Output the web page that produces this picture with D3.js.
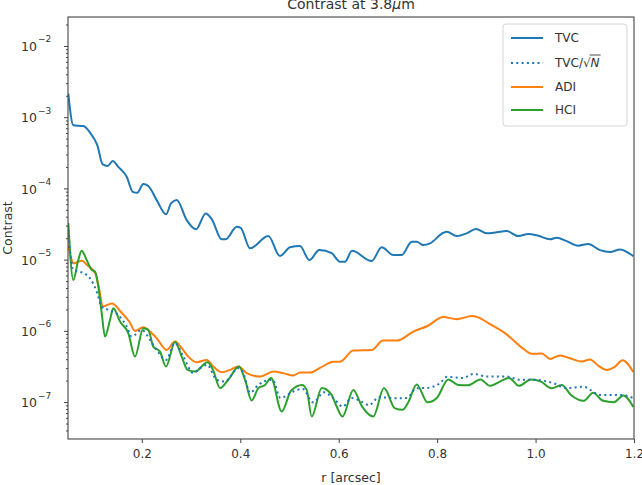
<!DOCTYPE html>
<html>
<head>
<meta charset="utf-8">
<script src="https://cdn.jsdelivr.net/npm/d3@7"></script>
<style>
  html, body { margin: 0; padding: 0; background: #fff; }
  svg { display: block; font-family: "DejaVu Sans", sans-serif; }
</style>
</head>
<body>
<svg id="chart" width="642" height="485"></svg>
<script>
// ---------------- data ----------------
const title = "Contrast at 3.8";
const xLabel = "r [arcsec]";
const yLabel = "Contrast";
const xTicks = [0.2, 0.4, 0.6, 0.8, 1.0, 1.2];
const yTickExponents = [-7, -6, -5, -4, -3, -2];
const seriesNames = ["TVC", "TVC/√N", "ADI", "HCI"];

const tvcR = [0.0506,0.0608,0.0811,0.0982,0.1095,0.1205,0.1307,0.1408,0.1522,0.1693,0.1815,0.1908,0.203,0.2132,0.2302,0.2491,0.2593,0.2709,0.2912,0.3101,0.3298,0.342,0.3623,0.3704,0.3928,0.4009,0.4198,0.457,0.4807,0.5011,0.5214,0.5403,0.5606,0.5858,0.6027,0.6128,0.627,0.667,0.6874,0.7109,0.728,0.7483,0.7585,0.7719,0.7855,0.8125,0.8194,0.8398,0.86,0.879,0.9007,0.921,0.9413,0.9649,0.9852,1.0055,1.0293,1.0429,1.0632,1.0868,1.1071,1.1309,1.1512,1.1715,1.1986];
const tvc = [2.15e-3,7.7e-4,7.5e-4,5.6e-4,4.05e-4,2.17e-4,2.07e-4,2.42e-4,2.01e-4,1.46e-4,8.96e-5,8.67e-5,1.15e-4,1.08e-4,6.85e-5,4.32e-5,6.16e-5,6.85e-5,3.59e-5,2.66e-5,4.46e-5,3.71e-5,1.93e-5,1.93e-5,2.89e-5,2.80e-5,1.44e-5,2.14e-5,1.12e-5,1.49e-5,1.55e-5,9.87e-6,1.36e-5,1.23e-5,9.35e-6,9.35e-6,1.33e-5,9.55e-6,1.49e-5,1.16e-5,1.16e-5,1.78e-5,1.78e-5,1.60e-5,1.69e-5,2.38e-5,2.46e-5,2.14e-5,2.34e-5,2.69e-5,2.34e-5,2.42e-5,2.52e-5,2.14e-5,2.29e-5,2.16e-5,1.93e-5,2.03e-5,1.82e-5,1.57e-5,1.66e-5,1.36e-5,1.28e-5,1.39e-5,1.12e-5];

const tvcNR = [0.0506,0.0608,0.0744,0.0947,0.1083,0.1185,0.1319,0.1522,0.1693,0.1794,0.1997,0.2166,0.2302,0.2491,0.2674,0.2843,0.3046,0.3182,0.3324,0.3521,0.369,0.396,0.4062,0.4198,0.4367,0.4655,0.4818,0.5078,0.5265,0.5484,0.5702,0.5884,0.6087,0.626,0.65,0.6616,0.6819,0.7178,0.7382,0.7581,0.7794,0.8058,0.8201,0.8532,0.8735,0.9007,0.9413,0.9684,0.9954,1.0361,1.0632,1.097,1.1309,1.1715,1.1986];
const tvcN = [2.60e-5,7.15e-6,6.77e-6,5.47e-6,3.55e-6,2.19e-6,1.97e-6,1.67e-6,1.15e-6,8.30e-7,1.03e-6,7.46e-7,5.40e-7,3.91e-7,6.70e-7,4.35e-7,2.55e-7,2.99e-7,3.33e-7,2.06e-7,1.95e-7,2.99e-7,2.55e-7,1.35e-7,1.74e-7,2.06e-7,1.14e-7,1.41e-7,1.53e-7,9.91e-8,1.37e-7,1.14e-7,8.66e-8,1.14e-7,9.86e-8,9.04e-8,1.17e-7,1.13e-7,1.14e-7,1.56e-7,1.58e-7,1.84e-7,2.26e-7,2.18e-7,2.49e-7,2.28e-7,2.28e-7,2.06e-7,2.06e-7,1.84e-7,1.57e-7,1.64e-7,1.26e-7,1.26e-7,1.14e-7];

const adiR = [0.0506,0.0616,0.0784,0.0886,0.1055,0.1124,0.1211,0.1394,0.1577,0.175,0.1861,0.203,0.2166,0.2302,0.2505,0.2674,0.281,0.2944,0.3115,0.3318,0.3452,0.3623,0.3791,0.396,0.4131,0.4401,0.4671,0.4874,0.5078,0.5214,0.5417,0.562,0.589,0.6027,0.6297,0.6671,0.69,0.7178,0.7516,0.7814,0.8125,0.8398,0.8708,0.8871,0.9034,0.9413,0.9751,0.9921,1.0125,1.0293,1.0496,1.07,1.0937,1.1106,1.1274,1.1451,1.1614,1.1766,1.1986];
const adi = [1.60e-5,8.88e-6,9.66e-6,8.41e-6,6.43e-6,4.17e-6,2.20e-6,2.43e-6,1.84e-6,1.33e-6,9.98e-7,1.12e-6,9.75e-7,7.88e-7,5.40e-7,7.06e-7,5.71e-7,4.35e-7,3.63e-7,3.91e-7,3.15e-7,2.63e-7,2.83e-7,3.15e-7,2.55e-7,2.28e-7,2.68e-7,2.55e-7,2.36e-7,2.60e-7,2.60e-7,3.02e-7,3.67e-7,3.69e-7,5.29e-7,5.40e-7,7.29e-7,7.29e-7,9.75e-7,1.18e-6,1.56e-6,1.46e-6,1.61e-6,1.51e-6,1.29e-6,8.91e-7,5.60e-7,4.75e-7,4.82e-7,4.04e-7,4.52e-7,4.13e-7,3.70e-7,3.97e-7,3.25e-7,2.83e-7,3.15e-7,3.85e-7,2.65e-7];

const hciR = [0.0506,0.0608,0.0709,0.0778,0.0866,0.0982,0.1049,0.1116,0.1185,0.1252,0.1353,0.142,0.1557,0.1725,0.1861,0.203,0.2132,0.2233,0.2369,0.2491,0.2674,0.281,0.2928,0.308,0.3334,0.3446,0.3588,0.3757,0.3974,0.4096,0.4232,0.4367,0.4503,0.4625,0.4842,0.5031,0.5255,0.535,0.5452,0.5655,0.5844,0.5959,0.6077,0.6297,0.6473,0.6703,0.692,0.7144,0.7296,0.7414,0.7585,0.7804,0.7997,0.8227,0.843,0.8627,0.8881,0.9074,0.9277,0.946,0.9663,0.9907,1.011,1.0324,1.0531,1.072,1.0974,1.1173,1.136,1.1594,1.1783,1.1986];
const hci = [3.26e-5,5.18e-6,9.88e-6,1.33e-5,1.04e-5,7.15e-6,6.81e-6,4.17e-6,1.77e-6,8.30e-7,1.42e-6,2.08e-6,1.35e-6,9.27e-7,4.35e-7,1.09e-6,1.03e-6,6.01e-7,5.11e-7,3.15e-7,7.00e-7,4.35e-7,2.83e-7,2.68e-7,3.61e-7,2.83e-7,1.57e-7,2.06e-7,3.15e-7,2.06e-7,1.05e-7,1.57e-7,1.74e-7,2.17e-7,7.37e-8,1.44e-7,1.74e-7,1.48e-7,6.27e-8,1.58e-7,1.30e-7,8.66e-8,6.27e-8,1.48e-7,8.71e-8,6.27e-8,1.57e-7,8.16e-8,7.78e-8,9.97e-8,1.77e-7,9.91e-8,1.15e-7,2.08e-7,1.74e-7,1.72e-7,2.08e-7,1.69e-7,1.94e-7,2.17e-7,1.69e-7,2.08e-7,1.94e-7,1.56e-7,1.74e-7,1.26e-7,1.04e-7,1.35e-7,1.05e-7,9.97e-8,1.24e-7,8.55e-8];

// ---------------- layout ----------------
const W = 642, H = 485;
const m = { left: 68, right: 8, top: 17, bottom: 46 };
const iw = W - m.left - m.right, ih = H - m.top - m.bottom;
const textColor = "#333";
const colors = { TVC: "#1f77b4", ADI: "#ff7f0e", HCI: "#2ca02c" };

const svg = d3.select("#chart");
const g = svg.append("g").attr("transform", `translate(${m.left},${m.top})`);

const x = d3.scaleLinear().domain([0.05, 1.2]).range([0, iw]);
const y = d3.scaleLog().domain([3.03e-8, 2.55e-2]).range([ih, 0]);

// clip
svg.append("defs").append("clipPath").attr("id", "clip")
  .append("rect").attr("width", iw).attr("height", ih);

// lines
const line = d3.line()
  .x(d => x(d[0])).y(d => y(d[1]))
  .curve(d3.curveMonotoneX);
const zip = (a, b) => a.map((v, i) => [v, b[i]]);

const plot = g.append("g").attr("clip-path", "url(#clip)");
plot.append("path").datum(zip(tvcR, tvc))
  .attr("fill", "none").attr("stroke", colors.TVC).attr("stroke-width", 2).attr("d", line);
plot.append("path").datum(zip(adiR, adi))
  .attr("fill", "none").attr("stroke", colors.ADI).attr("stroke-width", 2).attr("d", line);
plot.append("path").datum(zip(hciR, hci))
  .attr("fill", "none").attr("stroke", colors.HCI).attr("stroke-width", 2).attr("d", line);
plot.append("path").datum(zip(tvcNR, tvcN))
  .attr("fill", "none").attr("stroke", colors.TVC).attr("stroke-width", 2)
  .attr("stroke-dasharray", "2,3.3").attr("d", line);

// x axis
const xAxis = g.append("g").attr("transform", `translate(0,${ih})`)
  .call(d3.axisBottom(x).tickValues(xTicks).tickFormat(d3.format(".1f")).tickSize(4).tickPadding(6));
xAxis.select(".domain").remove();
xAxis.selectAll("line").attr("stroke", "#444");
xAxis.selectAll("text").attr("fill", textColor).attr("font-size", 12)
  .attr("font-family", "DejaVu Sans, sans-serif");

// y axis: minor ticks
const minor = [];
for (let e = -8; e <= -2; e++) for (let k = 2; k <= 9; k++) {
  const v = k * Math.pow(10, e);
  if (v >= y.domain()[0] && v <= y.domain()[1]) minor.push(v);
}
const yMinor = g.append("g")
  .call(d3.axisLeft(y).tickValues(minor).tickFormat("").tickSize(2));
yMinor.select(".domain").remove();
yMinor.selectAll("line").attr("stroke", "#444");

const yMajorVals = yTickExponents.map(e => Math.pow(10, e));
const yAxis = g.append("g")
  .call(d3.axisLeft(y).tickValues(yMajorVals).tickFormat("").tickSize(4));
yAxis.select(".domain").remove();
yAxis.selectAll("line").attr("stroke", "#444");
yAxis.selectAll(".tick").each(function(d, i) {
  d3.select(this).append("text")
    .attr("x", -31).attr("y", 0).attr("dy", "0.38em")
    .attr("text-anchor", "end").attr("fill", textColor)
    .attr("font-size", 12.5).attr("font-family", "DejaVu Sans, sans-serif")
    .text("10");
  d3.select(this).append("text")
    .attr("x", -30).attr("y", -4)
    .attr("text-anchor", "start").attr("fill", textColor)
    .attr("font-size", 9).attr("font-family", "DejaVu Sans, sans-serif")
    .text("−" + Math.abs(yTickExponents[i]));
});

// frame
g.append("rect").attr("width", iw).attr("height", ih)
  .attr("fill", "none").attr("stroke", "#444").attr("stroke-width", 1.1);

// axis labels
svg.append("text").attr("x", m.left + iw / 2).attr("y", 482)
  .attr("text-anchor", "middle").attr("fill", textColor).attr("font-size", 12.5)
  .text(xLabel);
svg.append("text").attr("transform", `translate(12,${m.top + ih / 2}) rotate(-90)`)
  .attr("text-anchor", "middle").attr("fill", textColor).attr("font-size", 12.5)
  .text(yLabel);

// title
const tt = svg.append("text").attr("x", m.left + iw / 2).attr("y", 9)
  .attr("text-anchor", "middle").attr("fill", textColor).attr("font-size", 14);
tt.append("tspan").text(title);
tt.append("tspan").attr("font-style", "italic").text("μ");
tt.append("tspan").text("m");

// legend
const lg = svg.append("g").attr("transform", "translate(503,24)");
lg.append("rect").attr("width", 124).attr("height", 102).attr("rx", 3)
  .attr("fill", "#fff").attr("fill-opacity", 0.8).attr("stroke", "#d6d6d6");
const rows = [
  { name: seriesNames[0], color: colors.TVC, dash: null, y: 14 },
  { name: seriesNames[1], color: colors.TVC, dash: "2,3.3", y: 39 },
  { name: seriesNames[2], color: colors.ADI, dash: null, y: 63 },
  { name: seriesNames[3], color: colors.HCI, dash: null, y: 86 }
];
rows.forEach((r, i) => {
  lg.append("line").attr("x1", 8).attr("x2", 40).attr("y1", r.y).attr("y2", r.y)
    .attr("stroke", r.color).attr("stroke-width", 2)
    .attr("stroke-dasharray", r.dash);
  const t = lg.append("text").attr("x", 52).attr("y", r.y).attr("dy", "0.36em")
    .attr("fill", textColor).attr("font-size", 12);
  if (i === 1) {
    t.append("tspan").text("TVC/√");
    const n = t.append("tspan").attr("font-style", "italic").text("N");
    const bb = t.node().getBBox();
    const nLen = n.node().getComputedTextLength();
    lg.append("line").attr("x1", bb.x + bb.width - nLen - 1).attr("x2", bb.x + bb.width + 1)
      .attr("y1", r.y - 8).attr("y2", r.y - 8)
      .attr("stroke", textColor).attr("stroke-width", 0.9);
  } else {
    t.text(r.name);
  }
});
</script>
</body>
</html>
